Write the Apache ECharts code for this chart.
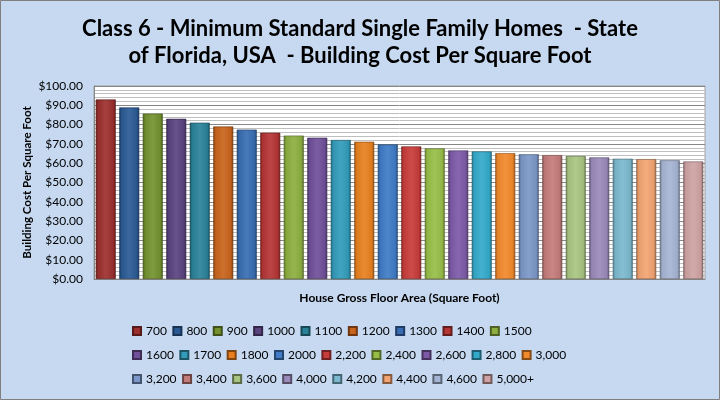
<!DOCTYPE html>
<html>
<head>
<meta charset="utf-8">
<script src="https://cdn.jsdelivr.net/npm/echarts@6/dist/echarts.min.js"></script>
<style>
  html, body { margin: 0; padding: 0; background: #C6D9F1; }
  #chart { width: 720px; height: 400px; }
</style>
</head>
<body>
<div id="chart"></div>
<script>
// ---- data ----
const categories = ['700','800','900','1000','1100','1200','1300','1400','1500',
  '1600','1700','1800','2000','2,200','2,400','2,600','2,800','3,000',
  '3,200','3,400','3,600','4,000','4,200','4,400','4,600','5,000+'];
const costPerSqFt = [93.0, 88.9, 85.7, 83.0, 81.0, 79.0, 77.4, 75.8, 74.3,
  73.2, 72.0, 71.1, 69.7, 68.7, 67.7, 66.6, 66.1, 65.2,
  64.6, 64.2, 63.7, 63.0, 62.3, 62.1, 61.5, 60.9];
const titleLines = ['Class 6 - Minimum Standard Single Family Homes  - State',
  'of Florida, USA  - Building Cost Per Square Foot'];
const yAxisTitle = 'Building Cost Per Square Foot';
const xAxisTitle = 'House Gross Floor Area (Square Foot)';
const legendRows = [categories.slice(0, 9), categories.slice(9, 18), categories.slice(18)];

// ---- style ----
const palette = ['#9C2F2D','#2A5A94','#73922F','#5B4380','#2A8299','#C9641C',
  '#386DB3','#B53535','#8DAF40','#70509A','#329CBA','#E8801F',
  '#3F7BC6','#C83C3A','#98BE48','#7D5AA8','#34AACB','#F2892B',
  '#7C98C8','#C47C7A','#A8C580','#9B8ABA','#7CB9CF','#F3A472',
  '#A6B5D5','#CFA3A3'];
const FONT = 'Lato, Carlito, Calibri, sans-serif';

function shade(hex, f) {
  const n = parseInt(hex.slice(1), 16);
  let r = (n >> 16) & 255, g = (n >> 8) & 255, b = n & 255;
  const t = f < 0 ? 0 : 255, p = Math.abs(f);
  r = Math.round((t - r) * p + r); g = Math.round((t - g) * p + g); b = Math.round((t - b) * p + b);
  return 'rgb(' + r + ',' + g + ',' + b + ')';
}
function barFill(c) {
  return new echarts.graphic.LinearGradient(0, 0, 1, 0, [
    { offset: 0, color: shade(c, -0.35) },
    { offset: 0.12, color: shade(c, -0.05) },
    { offset: 0.5, color: shade(c, 0.08) },
    { offset: 0.88, color: shade(c, -0.05) },
    { offset: 1, color: shade(c, -0.4) }
  ]);
}

const series = categories.map((name, i) => ({
  name: name,
  type: 'bar',
  stack: 'all',
  barCategoryGap: '15%',
  data: categories.map((c, j) => (j === i ? costPerSqFt[i] : '-')),
  itemStyle: { color: barFill(palette[i]), borderColor: shade(palette[i], -0.45), borderWidth: 0.6 }
}));

const legendTops = [320, 344, 368];
const legends = legendRows.map((row, k) => ({
  data: row.map((n) => ({ name: n, itemStyle: { color: palette[categories.indexOf(n)] } })),
  left: 127,
  top: legendTops[k],
  orient: 'horizontal',
  icon: 'rect',
  itemWidth: 8,
  itemHeight: 8,
  itemGap: 5.5,
  selectedMode: false,
  textStyle: { fontFamily: FONT, fontSize: 12, color: '#000', width: 33 }
}));

const chart = echarts.init(document.getElementById('chart'), null, { renderer: 'canvas' });
chart.setOption({
  backgroundColor: '#C6D9F1',
  animation: false,
  title: {
    text: titleLines.join('\n'),
    left: 'center',
    top: 11,
    textStyle: { fontFamily: FONT, fontWeight: 'bold', fontSize: 22, lineHeight: 26.5, color: '#000' }
  },
  graphic: [{
    type: 'rect', shape: { x: 0.5, y: 0.5, width: 719, height: 399 },
    style: { fill: 'none', stroke: '#7F7F7F', lineWidth: 1 }, silent: true, z: 100
  }],
  legend: legends,
  grid: { left: 94, right: 15, top: 86, bottom: 121, show: true, backgroundColor: '#FFFFFF', borderColor: '#A0A0A0', borderWidth: 1 },
  xAxis: {
    type: 'category',
    data: categories,
    axisLabel: { show: false },
    axisTick: { show: false },
    axisLine: { lineStyle: { color: '#868686' } },
    name: xAxisTitle,
    nameLocation: 'middle',
    nameGap: 13,
    nameTextStyle: { fontFamily: FONT, fontWeight: 'bold', fontSize: 12, color: '#000' }
  },
  yAxis: {
    type: 'value',
    min: 0, max: 100, interval: 10,
    axisLabel: { formatter: (v) => '$' + v.toFixed(2), fontFamily: FONT, fontSize: 12, color: '#000', margin: 11 },
    axisLine: { show: true, lineStyle: { color: '#868686' } },
    axisTick: { show: false },
    splitLine: { lineStyle: { color: '#868686', width: 1 } },
    minorTick: { show: false, splitNumber: 5 },
    minorSplitLine: { show: true, lineStyle: { color: '#BFBFBF', width: 1 } },
    name: yAxisTitle,
    nameLocation: 'middle',
    nameGap: 61,
    nameMoveOverlap: false,
    nameTextStyle: { fontFamily: FONT, fontWeight: 'bold', fontSize: 11.5, color: '#000' }
  },
  series: series
});
</script>
</body>
</html>
